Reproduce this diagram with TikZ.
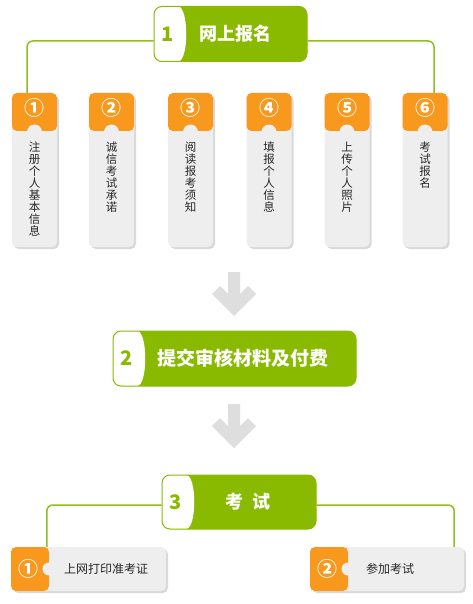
\documentclass[tikz,border=0pt]{standalone}
\usepackage{fontspec}
\setmainfont{Noto Sans CJK SC}
\usetikzlibrary{shadows}
\definecolor{headgreen}{RGB}{137,186,0}
\definecolor{linkgreen}{RGB}{141,190,35}
\definecolor{cardorange}{RGB}{248,152,28}
\definecolor{cardgray}{RGB}{238,238,238}
\definecolor{arrowgray}{RGB}{222,222,222}
\definecolor{textgray}{RGB}{40,40,40}
\tikzset{
    head/.style={
           rectangle,
           rounded corners=8pt,
           fill=headgreen, draw=headgreen, line width=1pt,
           minimum height=55pt,
           inner sep=0pt,
           path picture={
             \fill[white] (path picture bounding box.north west) -- ([xshift=16pt]path picture bounding box.north west)
               .. controls ([xshift=35pt]path picture bounding box.north west) and ([xshift=35pt]path picture bounding box.south west)
               .. ([xshift=16pt]path picture bounding box.south west) -- (path picture bounding box.south west) -- cycle;}},
    headnum/.style={text=headgreen, font=\bfseries\fontsize{20}{20}\selectfont},
    headtxt/.style={text=white, font=\bfseries\fontsize{18}{18}\selectfont},
    card/.style={
           rectangle,
           rounded corners=5pt,
           fill=cardgray,
           minimum width=45pt, minimum height=154pt,
           inner sep=0pt,
           drop shadow={shadow xshift=2pt, shadow yshift=-2pt, fill=black, opacity=0.15},
           path picture={
             \fill[cardorange] (path picture bounding box.north west) rectangle ([yshift=-38pt]path picture bounding box.north east);
             \fill[cardgray] ([yshift=-39pt]path picture bounding box.north) circle (7.5pt);}},
    bcard/.style={
           rectangle,
           rounded corners=5pt,
           fill=cardgray,
           minimum height=44pt,
           inner sep=0pt,
           drop shadow={shadow xshift=2pt, shadow yshift=-2pt, fill=black, opacity=0.15},
           path picture={
             \fill[cardorange] (path picture bounding box.north west) rectangle ([xshift=38pt]path picture bounding box.south west);
             \fill[cardgray] ([xshift=38pt]path picture bounding box.west) circle (6.5pt);}},
    vtext/.style={text=textgray, align=center, inner sep=0pt, font=\fontsize{11.5}{12}\selectfont},
    btext/.style={text=textgray, inner sep=0pt, font=\fontsize{12}{12}\selectfont},
    cnum/.style={text=white, inner sep=0pt, font=\bfseries\fontsize{20}{20}\selectfont},
    link/.style={draw=linkgreen, line width=1.5pt, rounded corners=6pt},
    downarr/.style={fill=arrowgray}
    }
\begin{document}
\begin{tikzpicture}[x=1pt,y=-1pt]
      \useasboundingbox[fill=white] (0,0) rectangle (472,604);
      % step 1
      \node[head, minimum width=153pt] (h1) at (230.5,34) {};
      \node[headnum] (hn1) at ([xshift=14.5pt]h1.west) {1};
      \node[headtxt] (ht1) at ([xshift=4.5pt]h1.center) {网上报名};
      \foreach \n/\x/\m/\t in {1/34.5/①/{注\\册\\个\\人\\基\\本\\信\\息},
                               2/111.5/②/{诚\\信\\考\\试\\承\\诺},
                               3/190.5/③/{阅\\读\\报\\考\\须\\知},
                               4/269/④/{填\\报\\个\\人\\信\\息},
                               5/347/⑤/{上\\传\\个\\人\\照\\片},
                               6/425/⑥/{考\\试\\报\\名}}{
        \node[card] (card\n) at (\x,170) {};
        \node[cnum] (m\n) at ([yshift=-15pt]card\n.north) {\m};
        \node[vtext, anchor=north] (t\n) at ([yshift=-49pt]card\n.north) {\t};
      }
      \draw[link] ([yshift=-7pt]h1.west) -| ([xshift=-7.5pt]card1.north);
      \draw[link] ([yshift=-7pt]h1.east) -| ([xshift=9pt]card6.north);
      % arrows
      \foreach \s in {0,132}{
        \fill[downarr, yshift=-\s pt] (228,272) -- (240,272) -- (240,294) -- (248,286) -- (256,294)
             -- (234,316) -- (212,294) -- (220,286) -- (228,294) -- cycle;
      }
      % step 2
      \node[head, minimum width=243pt] (h2) at (234.5,358.5) {};
      \node[headnum] (hn2) at ([xshift=14.5pt]h2.west) {2};
      \node[headtxt, font=\bfseries\fontsize{19}{19}\selectfont] (ht2) at ([xshift=8.5pt]h2.center) {提交审核材料及付费};
      % step 3
      \node[head, minimum width=154pt, minimum height=54pt] (h3) at (239,502) {};
      \node[headnum] (hn3) at ([xshift=14.5pt]h3.west) {3};
      \node[headtxt] (ht3) at ([xshift=9pt]h3.center) {考\hspace{0.5em}试};
      \node[bcard, minimum width=155pt] (bc1) at (88.5,569) {};
      \node[bcard, minimum width=154pt] (bc2) at (387,569) {};
      \node[cnum] (bm1) at ([xshift=18pt]bc1.west) {①};
      \node[cnum] (bm2) at ([xshift=18pt]bc2.west) {②};
      \node[btext] (bt1) at ([xshift=17.5pt]bc1.center) {上网打印准考证};
      \node[btext] (bt2) at ([xshift=3pt]bc2.center) {参加考试};
      \draw[link] ([yshift=-3pt]h3.west) -| ([xshift=36pt]bc1.north west);
      \draw[link] ([yshift=-3pt]h3.east) -| ([xshift=-10pt]bc2.north east);
\end{tikzpicture}
\end{document}
